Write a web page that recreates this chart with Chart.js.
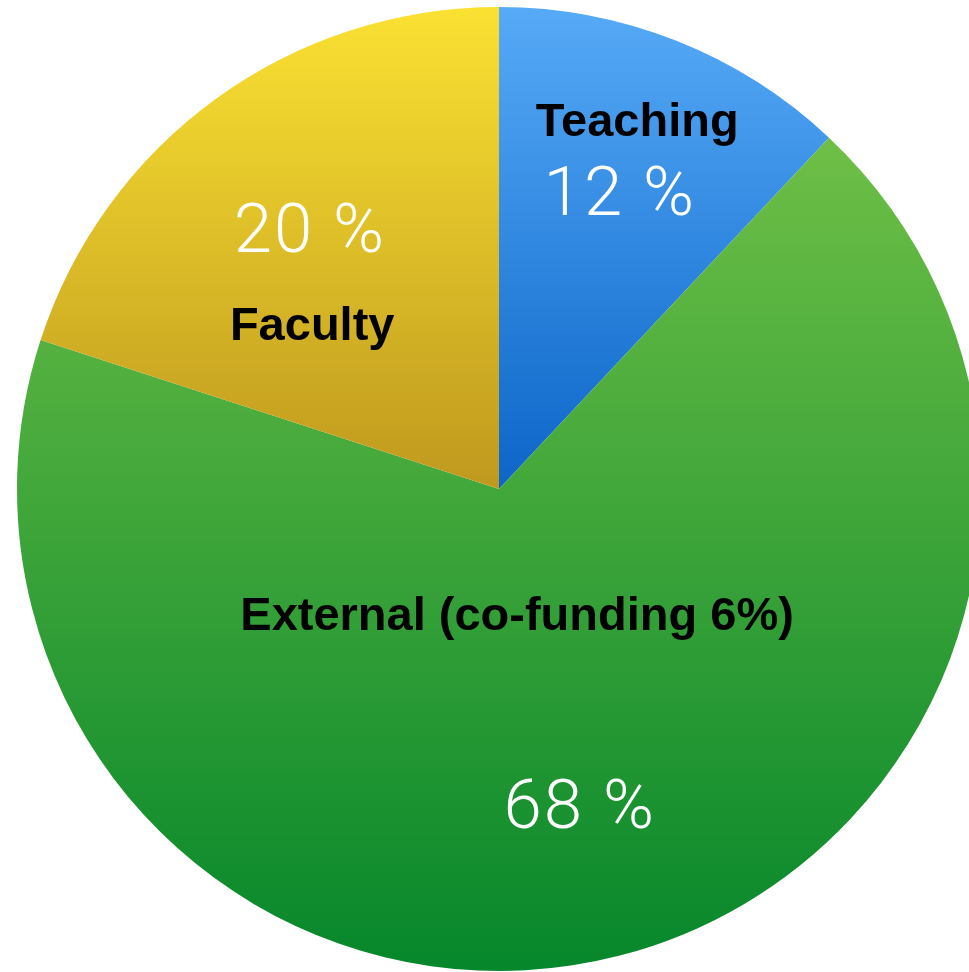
<!DOCTYPE html>
<html>
<head>
<meta charset="utf-8">
<script src="https://cdn.jsdelivr.net/npm/chart.js@4"></script>
<style>
    html, body { margin: 0; padding: 0; background: #fff; overflow: hidden; }
    #wrap { position: absolute; left: 0; top: 0; width: 1000px; height: 972px; }
</style>
</head>
<body>
<div id="wrap"><canvas id="fundingChart" width="1000" height="972"></canvas></div>
<script>
// data
const categories = ['Teaching', 'External (co-funding 6%)', 'Faculty'];
const shares = [12, 68, 20];
const shareLabels = ['12 %', '68 %', '20 %'];

// colours, top -> bottom of each slice
const topColors = ['#56aaf7', '#6ebf46', '#fae132'];
const bottomColors = ['#0c65c8', '#06872b', '#bf991e'];

// label anchors: angle clockwise from 12 o'clock, distance as fraction of radius
const nameAnchors = [[21.4, 0.786], [172.7, 0.295], [308.6, 0.496]];
const valueAnchors = [[23.8, 0.621], [166.6, 0.723], [321.4, 0.629]];

function sliceBounds(index, cy, r) {
    const total = shares.reduce((a, b) => a + b, 0);
    let start = -Math.PI / 2;
    for (let i = 0; i < index; i++) start += shares[i] / total * Math.PI * 2;
    const end = start + shares[index] / total * Math.PI * 2;
    const ys = [cy, cy + r * Math.sin(start), cy + r * Math.sin(end)];
    // include top/bottom of circle if the slice crosses them
    [-Math.PI / 2, Math.PI / 2, 3 * Math.PI / 2].forEach(a => {
        if (a >= start && a <= end) ys.push(cy + r * Math.sin(a));
    });
    return [Math.min(...ys), Math.max(...ys)];
}

function sliceGradient(context) {
    const chart = context.chart;
    const area = chart.chartArea;
    if (!area) return topColors[context.dataIndex];
    const cy = (area.top + area.bottom) / 2;
    const r = Math.min(area.right - area.left, area.bottom - area.top) / 2;
    const b = sliceBounds(context.dataIndex, cy, r);
    const g = chart.ctx.createLinearGradient(0, b[0], 0, b[1]);
    g.addColorStop(0, topColors[context.dataIndex]);
    g.addColorStop(1, bottomColors[context.dataIndex]);
    return g;
}

const sliceText = {
    id: 'sliceText',
    afterDatasetsDraw(chart) {
        const ctx = chart.ctx;
        const arcs = chart.getDatasetMeta(0).data;
        ctx.save();
        ctx.textAlign = 'center';
        ctx.textBaseline = 'alphabetic';
        arcs.forEach((arc, i) => {
            const put = (anchor, text) => {
                const a = anchor[0] * Math.PI / 180;
                const d = anchor[1] * arc.outerRadius;
                ctx.fillText(text, arc.x + d * Math.sin(a), arc.y - d * Math.cos(a));
            };
            ctx.fillStyle = '#000';
            ctx.letterSpacing = '0px';
            ctx.font = 'bold 47px "Liberation Sans", Arial, sans-serif';
            put(nameAnchors[i], categories[i]);
            ctx.fillStyle = '#fff';
            ctx.letterSpacing = '2px';
            ctx.font = '300 69px Roboto, "Open Sans", sans-serif';
            put(valueAnchors[i], shareLabels[i]);
        });
        ctx.restore();
    }
};

document.addEventListener('DOMContentLoaded', function () {
    const ctx = document.getElementById('fundingChart').getContext('2d');
    const fundingChart = new Chart(ctx, {
        type: 'pie',
        data: {
            labels: categories,
            datasets: [{
                data: shares,
                backgroundColor: sliceGradient,
                borderWidth: 0,
                offset: 0,
                hoverOffset: 0
            }]
        },
        options: {
            responsive: false,
            animation: false,
            events: [],
            layout: {
                padding: { left: 17, top: 7, right: 19, bottom: 1 }
            },
            plugins: {
                legend: { display: false },
                tooltip: { enabled: false }
            }
        },
        plugins: [sliceText]
    });
});
</script>
</body>
</html>
